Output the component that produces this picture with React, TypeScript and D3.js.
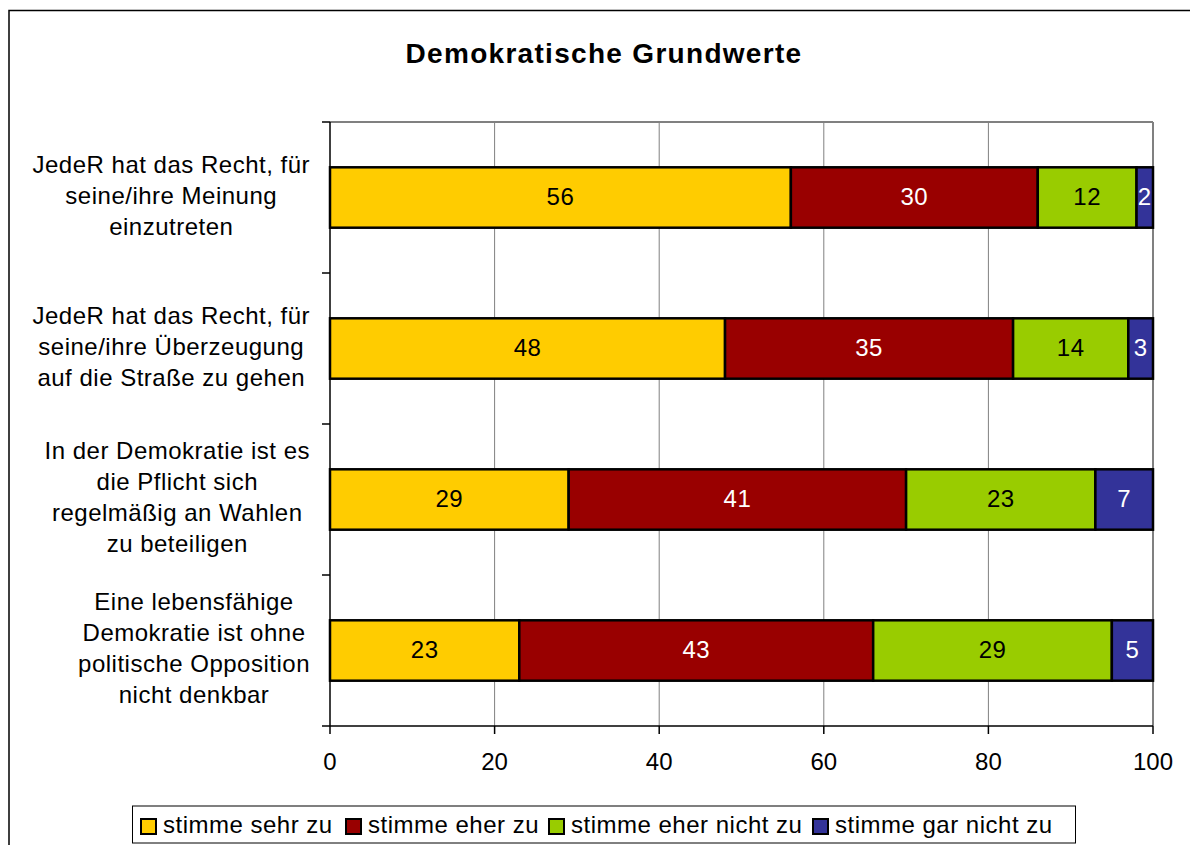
import React from "react";
import * as d3 from "d3";

const categories: string[][] = [
  ["JedeR hat das Recht, für", "seine/ihre Meinung", "einzutreten"],
  ["JedeR hat das Recht, für", "seine/ihre Überzeugung", "auf die Straße zu gehen"],
  ["In der Demokratie ist es", "die Pflicht sich", "regelmäßig an Wahlen", "zu beteiligen"],
  ["Eine lebensfähige", "Demokratie ist ohne", "politische Opposition", "nicht denkbar"],
];
const seriesNames = ["stimme sehr zu", "stimme eher zu", "stimme eher nicht zu", "stimme gar nicht zu"];
const sehrZu = [56, 48, 29, 23];
const eherZu = [30, 35, 41, 43];
const eherNicht = [12, 14, 23, 29];
const garNicht = [2, 3, 7, 5];
const xTicks = [0, 20, 40, 60, 80, 100];
const title = "Demokratische Grundwerte";

const colors = ["#FFCC00", "#990000", "#99CC00", "#333399"];
const labelColors = ["#000", "#fff", "#000", "#fff"];
const legendX = [141, 346, 549, 813];

const FONT = "'Liberation Sans', Arial, sans-serif";

let ctx: CanvasRenderingContext2D | null = null;
function measure(s: string, size: number, spacing: number): number {
  if (!ctx && typeof document !== "undefined") ctx = document.createElement("canvas").getContext("2d");
  if (!ctx) return s.length * size * 0.5;
  ctx.font = `${size}px ${FONT}`;
  return ctx.measureText(s).width + spacing * s.length;
}

export default function App() {
  const W = 1190, H = 845;
  const left = 330, right = 1153, top = 122, bottom = 726;
  const labelRight = 310;
  const x = d3.scaleLinear().domain([0, 100]).range([left, right]);
  const y = d3.scaleBand<number>().domain(d3.range(categories.length)).range([top, bottom]).paddingInner(0.6).paddingOuter(0.3);
  const bandStep = (bottom - top) / categories.length;
  const series = [sehrZu, eherZu, eherNicht, garNicht];
  const rows = categories.map((_, i) => {
    const o: any = { i };
    series.forEach((s, k) => (o["s" + k] = s[i]));
    return o;
  });
  const stacked = d3.stack<any>().keys(series.map((_, k) => "s" + k))(rows);

  return (
    <svg width={W} height={H} style={{ position: "absolute", left: 0, top: 0 }} fontFamily={FONT}>
      <rect x={0} y={0} width={W} height={H} fill="#fff" />
      <rect x={9} y={10.5} width={W + 20} height={H + 20} fill="none" stroke="#000" strokeWidth={1.5} />
      <text x={604} y={63} textAnchor="middle" fontSize={28} fontWeight="bold" letterSpacing={1.3}>{title}</text>

      {/* gridlines */}
      {xTicks.filter((t) => t > 0).map((t) => (
        <line key={t} x1={x(t)} x2={x(t)} y1={top} y2={bottom} stroke="#808080" strokeWidth={t === 100 ? 2 : 1} />
      ))}
      <line x1={left} x2={right} y1={top} y2={top} stroke="#808080" strokeWidth={2} />

      {/* bars */}
      {stacked.map((layer, k) =>
        layer.map((d, i) => {
          const x0 = x(d[0]), x1 = x(d[1]);
          const yy = y(i)!;
          return (
            <g key={k + "-" + i}>
              <rect x={x0} y={yy} width={x1 - x0} height={y.bandwidth()} fill={colors[k]} stroke="#000" strokeWidth={2.5} />
              <text x={(x0 + x1) / 2} y={yy + y.bandwidth() / 2 + 7} textAnchor="middle" fontSize={24} letterSpacing={0.5} fill={labelColors[k]}>
                {series[k][i]}
              </text>
            </g>
          );
        })
      )}

      {/* axes */}
      <line x1={left} x2={left} y1={top} y2={bottom} stroke="#000" strokeWidth={1.5} />
      <line x1={left} x2={right} y1={bottom} y2={bottom} stroke="#000" strokeWidth={1.5} />
      {d3.range(categories.length + 1).map((i) => (
        <line key={i} x1={left - 8} x2={left} y1={top + i * bandStep} y2={top + i * bandStep} stroke="#000" strokeWidth={1.5} />
      ))}
      {xTicks.map((t) => (
        <g key={t}>
          <line x1={x(t)} x2={x(t)} y1={bottom} y2={bottom + 8} stroke="#000" strokeWidth={1.5} />
          <text x={x(t)} y={770} textAnchor="middle" fontSize={24}>{t}</text>
        </g>
      ))}

      {/* category labels */}
      {categories.map((lines, i) => {
        const cy = y(i)! + y.bandwidth() / 2;
        const maxW = d3.max(lines, (ln) => measure(ln, 24, 0.5)) || 0;
        const cx = labelRight - maxW / 2;
        return (
          <text key={i} textAnchor="middle" fontSize={24} letterSpacing={0.5}>
            {lines.map((ln, j) => (
              <tspan key={j} x={cx} y={cy + (j - (lines.length - 1) / 2) * 31 + 6}>{ln}</tspan>
            ))}
          </text>
        );
      })}

      {/* legend */}
      <rect x={132.5} y={806} width={943} height={37} fill="#fff" stroke="#000" strokeWidth={1} />
      {seriesNames.map((n, k) => (
        <g key={n}>
          <rect x={legendX[k]} y={819} width={15} height={15} fill={colors[k]} stroke="#000" strokeWidth={2} />
          <text x={legendX[k] + 22} y={833} fontSize={24} letterSpacing={0.5}>{n}</text>
        </g>
      ))}
    </svg>
  );
}
